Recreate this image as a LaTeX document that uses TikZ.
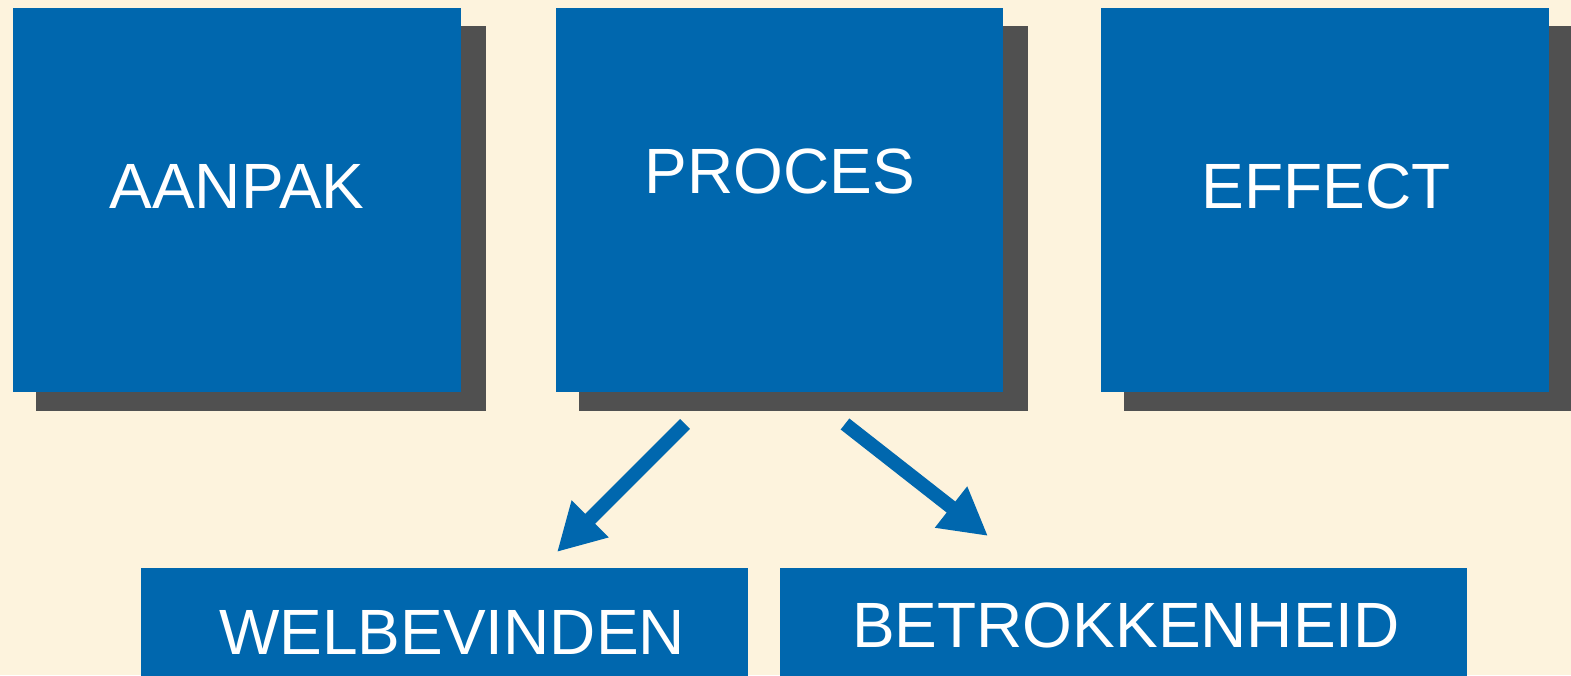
\documentclass[tikz,border=0pt]{standalone}
\usepackage{fontspec}
\setmainfont{Liberation Sans}
\usetikzlibrary{arrows.meta}
\definecolor{bg}{RGB}{253,243,221}
\definecolor{boxblue}{RGB}{0,103,174}
\definecolor{shadowgray}{RGB}{80,80,80}
\tikzset{
  box/.style={fill=boxblue, draw=none, inner sep=0pt, outer sep=0pt},
  shadowbox/.style={fill=shadowgray, draw=none},
  lbl/.style={text=white, inner sep=0pt, anchor=base, font=\fontsize{64}{70}\selectfont},
  bigarrow/.style={draw=boxblue, line width=14pt, -{Triangle[length=47pt,width=49pt]}, fill=boxblue}
}
\begin{document}
\begin{tikzpicture}[x=1pt,y=-1pt]
\useasboundingbox (0,0) rectangle (1571,675);
\clip (0,0) rectangle (1571,675);
\fill[bg] (0,0) rectangle (1571,675);
% shadows
\fill[shadowgray] (36,26) rectangle (486,411);
\fill[shadowgray] (579,26) rectangle (1028,411);
\fill[shadowgray] (1124,26) rectangle (1590,411);
% top boxes
\node[box, minimum width=448pt, minimum height=384pt, anchor=north west] (aanpak) at (13,8) {};
\node[box, minimum width=447pt, minimum height=384pt, anchor=north west] (proces) at (556,8) {};
\node[box, minimum width=448pt, minimum height=384pt, anchor=north west] (effect) at (1101,8) {};
% bottom boxes
\node[box, minimum width=607pt, minimum height=130pt, anchor=north west] (welb) at (141,568) {};
\node[box, minimum width=687pt, minimum height=130pt, anchor=north west] (betr) at (780,568) {};
% labels
\node[lbl] (taanpak) at (237,208) {AANPAK};
\node[lbl] (tproces) at (780,193) {PROCES};
\node[lbl] (teffect) at (1326,208) {EFFECT};
\node[lbl] (twelb) at (452,654) {WELBEVINDEN};
\node[lbl] (tbetr) at (1126,647) {BETROKKENHEID};
% arrows
\coordinate (a1s) at (685,424);
\coordinate (a1e) at (557,552);
\coordinate (a2s) at (845,424);
\coordinate (a2e) at (988,536);
\draw[bigarrow] (a1s) -- (a1e);
\draw[bigarrow] (a2s) -- (a2e);
\end{tikzpicture}
\end{document}
